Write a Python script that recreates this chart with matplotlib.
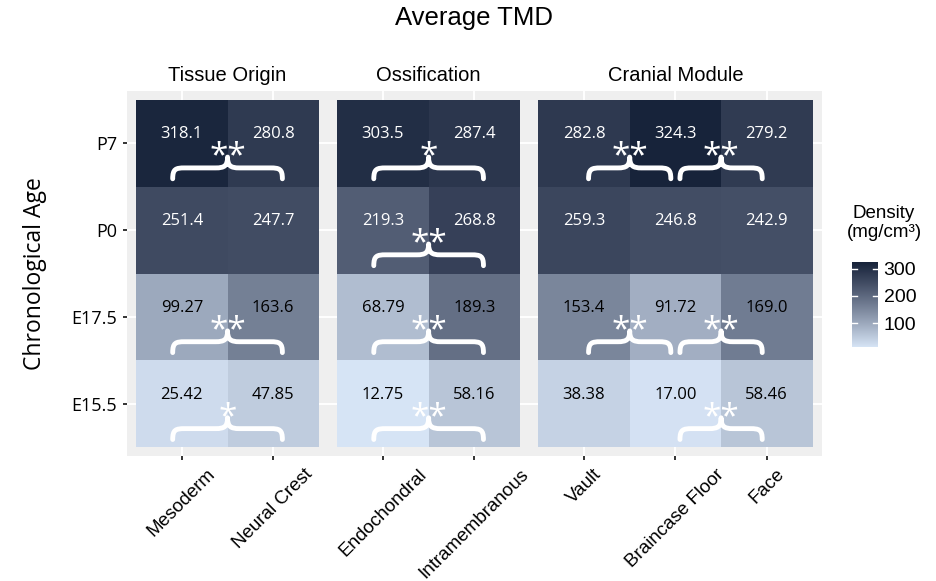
import numpy as np
import matplotlib
matplotlib.use('agg')
import matplotlib.pyplot as plt
from matplotlib.colors import ListedColormap, Normalize, to_rgb
from matplotlib.path import Path
from matplotlib.patches import PathPatch, Rectangle

# chronological ages, bottom to top
ages = ['E15.5', 'E17.5', 'P0', 'P7']

tissue_cats = ['Mesoderm', 'Neural Crest']
mesoderm = [25.42, 99.27, 251.4, 318.1]
neural_crest = [47.85, 163.6, 247.7, 280.8]

oss_cats = ['Endochondral', 'Intramembranous']
endochondral = [12.75, 68.79, 219.3, 303.5]
intramembranous = [58.16, 189.3, 268.8, 287.4]

module_cats = ['Vault', 'Braincase Floor', 'Face']
vault = [38.38, 153.4, 259.3, 282.8]
braincase_floor = [17.00, 91.72, 246.8, 324.3]
face = [58.46, 169.0, 242.9, 279.2]

# significance: (age, index of left column in pair, stars)
tissue_sig = [('P7', 0, '**'), ('E17.5', 0, '**'), ('E15.5', 0, '*')]
oss_sig = [('P7', 0, '*'), ('P0', 0, '**'), ('E17.5', 0, '**'), ('E15.5', 0, '**')]
module_sig = [('P7', 0, '**'), ('P7', 1, '**'), ('E17.5', 0, '**'),
              ('E17.5', 1, '**'), ('E15.5', 1, '**')]

panels = [
    ('Tissue Origin', tissue_cats, [mesoderm, neural_crest], tissue_sig, 0.6),
    ('Ossification', oss_cats, [endochondral, intramembranous], oss_sig, 0.6),
    ('Cranial Module', module_cats, [vault, braincase_floor, face], module_sig, 0.45),
]


# gradient interpolated in CIE Lab, like a ggplot continuous fill scale
def _to_lab(rgb):
    c = np.asarray(rgb, float)
    c = np.where(c > 0.04045, ((c + 0.055) / 1.055) ** 2.4, c / 12.92)
    M = np.array([[0.4124, 0.3576, 0.1805], [0.2126, 0.7152, 0.0722], [0.0193, 0.1192, 0.9505]])
    xyz = M @ c / np.array([0.95047, 1.0, 1.08883])
    f = np.where(xyz > 0.008856, np.cbrt(xyz), 7.787 * xyz + 16 / 116)
    return np.array([116 * f[1] - 16, 500 * (f[0] - f[1]), 200 * (f[1] - f[2])])


def _from_lab(lab):
    L, a, b = lab
    fy = (L + 16) / 116
    f = np.array([fy + a / 500, fy, fy - b / 200])
    xyz = np.where(f ** 3 > 0.008856, f ** 3, (f - 16 / 116) / 7.787) * np.array([0.95047, 1.0, 1.08883])
    Minv = np.array([[3.2406, -1.5372, -0.4986], [-0.9689, 1.8758, 0.0415], [0.0557, -0.2040, 1.0570]])
    c = Minv @ xyz
    c = np.where(c > 0.0031308, 1.055 * np.clip(c, 0, None) ** (1 / 2.4) - 0.055, 12.92 * c)
    return np.clip(c, 0, 1)


lo, hi = _to_lab(to_rgb('#D6E4F5')), _to_lab(to_rgb('#17233A'))
cmap = ListedColormap([_from_lab(lo + (hi - lo) * t) for t in np.linspace(0, 1, 256)])

allv = np.concatenate([np.array(p[2]).ravel() for p in panels])
vmin, vmax = allv.min(), allv.max()
norm = Normalize(vmin, vmax)

W, H = 936, 581
fig = plt.figure(figsize=(W / 100, H / 100), dpi=100)


def px_axes(x0, y0, x1, y1):
    return fig.add_axes([x0 / W, 1 - y1 / H, (x1 - x0) / W, (y1 - y0) / H])


def brace(ax, c, half, y):
    x0, x1 = c - half, c + half
    yb, yh, yt = y - 0.41, y - 0.285, y - 0.16
    r = 0.13
    verts = [(x0, yb),
             (x0, yb + (yh - yb) * 0.9), (x0 + r * 0.25, yh), (x0 + r, yh),
             (c - r, yh),
             (c - r * 0.25, yh), (c, yh + (yt - yh) * 0.2), (c, yt),
             (c, yh + (yt - yh) * 0.2), (c + r * 0.25, yh), (c + r, yh),
             (x1 - r, yh),
             (x1 - r * 0.25, yh), (x1, yb + (yh - yb) * 0.9), (x1, yb)]
    codes = [Path.MOVETO, Path.CURVE4, Path.CURVE4, Path.CURVE4, Path.LINETO,
             Path.CURVE4, Path.CURVE4, Path.CURVE4,
             Path.CURVE4, Path.CURVE4, Path.CURVE4, Path.LINETO,
             Path.CURVE4, Path.CURVE4, Path.CURVE4]
    ax.add_patch(PathPatch(Path(verts, codes), facecolor='none', edgecolor='white',
                           lw=3.5, capstyle='round', joinstyle='round', zorder=4))


unit = 91.4
left = 127
# one grey backdrop shared by the three facets
fig.patches.append(Rectangle((left / W, 1 - 456 / H), 7.6 * unit / W, 365 / H,
                             transform=fig.transFigure, facecolor='#EFEFEF',
                             edgecolor='none', zorder=-5))
for k, (title, cats, vals, sig, half) in enumerate(panels):
    n = len(cats)
    width = (n + 0.2) * unit
    ax = px_axes(left, 91, left + width, 456)
    left += width
    ax.set_facecolor('none')
    ax.set_xlim(-0.6, n - 0.4)
    ax.set_ylim(-0.6, len(ages) - 0.4)
    for i, col in enumerate(vals):
        for j, v in enumerate(col):
            ax.add_patch(Rectangle((i - 0.5, j - 0.5), 1, 1, facecolor=cmap(norm(v)),
                                   edgecolor='none', zorder=2))
            ax.text(i, j + 0.1, f'{v:#.4g}', ha='center', va='center', fontsize=12,
                    family='Open Sans', color='white' if v > 200 else 'black', zorder=5)
    for age, i, stars in sig:
        j = ages.index(age)
        brace(ax, i + 0.5, half, j)
        ax.text(i + 0.5, j - 0.255, stars, ha='center', va='baseline', fontsize=24,
                family='Open Sans', color='white', zorder=5)
    ax.grid(True, color='white', lw=1.4, zorder=0)
    ax.set_axisbelow(True)
    for s in ax.spines.values():
        s.set_visible(False)
    ax.tick_params(axis='both', length=3, width=1.4, color='#333333', pad=4)
    ax.set_xticks(range(n))
    ax.set_xticklabels(cats, rotation=45, ha='center', va='top',
                       family='Liberation Sans', fontsize=13.5)
    ax.set_yticks(range(len(ages)))
    if k == 0:
        ax.set_yticklabels(ages, family='Open Sans', fontsize=13)
        ax.set_ylabel('Chronological Age', family='Open Sans', fontsize=16.5, labelpad=18)
    else:
        ax.set_yticklabels([])
        ax.tick_params(axis='y', length=0)
    ax.set_title(title, family='Liberation Sans', fontsize=14.5, pad=7)

fig.text(474 / W, 1 - 18 / H, 'Average TMD', ha='center', va='center',
         family='Liberation Sans', fontsize=18.5)

# colour bar
cax = px_axes(852, 262, 878, 347)
grad = np.linspace(vmin, vmax, 256).reshape(-1, 1)
cax.imshow(grad, aspect='auto', cmap=cmap, norm=norm, origin='lower',
           extent=[0, 1, vmin, vmax])
cax.set_xlim(0, 1)
cax.set_ylim(vmin, vmax)
for t in [100, 200, 300]:
    cax.plot([0, 0.2], [t, t], color='white', lw=1)
    cax.plot([0.8, 1], [t, t], color='white', lw=1)
cax.set_xticks([])
cax.yaxis.tick_right()
cax.set_yticks([100, 200, 300])
cax.set_yticklabels(['100', '200', '300'], family='Liberation Sans', fontsize=14)
cax.tick_params(axis='y', length=0, pad=4)
for s in cax.spines.values():
    s.set_visible(False)
fig.text(884 / W, 1 - 223 / H, 'Density\n(mg/cm³)', ha='center', va='center',
         family='Liberation Sans', fontsize=13.5, linespacing=1.2)

fig.savefig('out.png', dpi=100)
